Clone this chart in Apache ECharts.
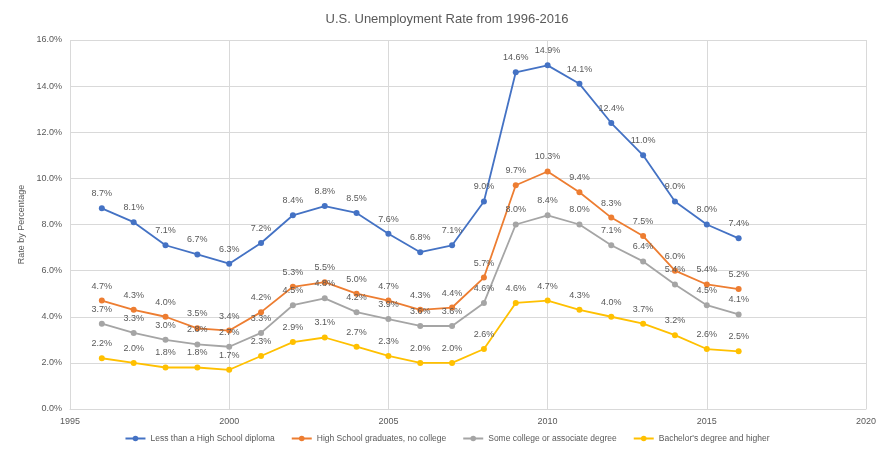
<!DOCTYPE html>
<html><head><meta charset="utf-8">
<script src="https://cdn.jsdelivr.net/npm/echarts@6/dist/echarts.min.js"></script>
<style>html,body{margin:0;padding:0;background:#fff}#c{width:894px;height:450px}</style>
</head><body><div id="c"></div>
<script>
const years = [1996,1997,1998,1999,2000,2001,2002,2003,2004,2005,2006,2007,2008,2009,2010,2011,2012,2013,2014,2015,2016];
const lessThanHS = [8.7,8.1,7.1,6.7,6.3,7.2,8.4,8.8,8.5,7.6,6.8,7.1,9.0,14.6,14.9,14.1,12.4,11.0,9.0,8.0,7.4];
const hsGrad = [4.7,4.3,4.0,3.5,3.4,4.2,5.3,5.5,5.0,4.7,4.3,4.4,5.7,9.7,10.3,9.4,8.3,7.5,6.0,5.4,5.2];
const someCollege = [3.7,3.3,3.0,2.8,2.7,3.3,4.5,4.8,4.2,3.9,3.6,3.6,4.6,8.0,8.4,8.0,7.1,6.4,5.4,4.5,4.1];
const bachelors = [2.2,2.0,1.8,1.8,1.7,2.3,2.9,3.1,2.7,2.3,2.0,2.0,2.6,4.6,4.7,4.3,4.0,3.7,3.2,2.6,2.5];
const seriesNames = ['Less than a High School diploma','High School graduates, no college','Some college or associate degree',"Bachelor's degree and higher"];
const colors = ['#4472C4','#ED7D31','#A5A5A5','#FFC000'];
const allData = [lessThanHS, hsGrad, someCollege, bachelors];

const chart = echarts.init(document.getElementById('c'));
const font = 'Liberation Sans, Arial, sans-serif';
chart.setOption({
  animation:false,
  color: colors,
  title:{text:'U.S. Unemployment Rate from 1996-2016', left:'center', top:8,
    textStyle:{fontSize:13, fontWeight:'normal', color:'#595959', fontFamily:font}},
  grid:{left:70, right:28, top:40, bottom:41},
  legend:{bottom:2, left:'center', itemGap:16, itemWidth:20, itemHeight:7,
    textStyle:{fontSize:8.5, color:'#595959', fontFamily:font}},
  xAxis:{type:'value', min:1995, max:2020, interval:5,
    axisLine:{show:true, lineStyle:{color:'#d9d9d9'}}, axisTick:{show:false},
    splitLine:{show:true, lineStyle:{color:'#d9d9d9'}},
    axisLabel:{color:'#595959', fontSize:9, fontFamily:font, margin:8, formatter:v=>String(v)}},
  yAxis:{type:'value', min:0, max:16, interval:2, name:'Rate by Percentage', nameLocation:'middle', nameGap:40,
    nameTextStyle:{color:'#595959', fontSize:9, fontFamily:font},
    axisLine:{show:false}, axisTick:{show:false},
    splitLine:{show:true, lineStyle:{color:'#d9d9d9'}},
    axisLabel:{color:'#595959', fontSize:9, fontFamily:font, formatter:v=>v.toFixed(1)+'%'}},
  series: allData.map((d,i)=>({
    name:seriesNames[i], type:'line', data: years.map((y,j)=>[y,d[j]]),
    symbol:'circle', symbolSize:6, lineStyle:{width:1.8},
    label:{show:true, position:'top', distance:7, color:'#595959', fontSize:9, fontFamily:font,
      formatter:p=>p.value[1].toFixed(1)+'%'}
  }))
});
</script></body></html>
